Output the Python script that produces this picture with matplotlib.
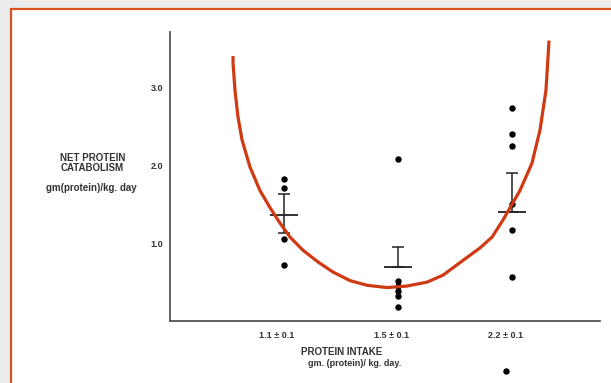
import numpy as np
import matplotlib.pyplot as plt
from matplotlib.patches import Rectangle

plt.rcParams['font.family'] = ['Liberation Sans', 'DejaVu Sans']

# groups on the x axis
positions = [1, 2, 3]
group_labels = ['1.1 ± 0.1', '1.5 ± 0.1', '2.2 ± 0.1']

# individual measurements (net protein catabolism, gm/kg.day)
g1_values = [1.83, 1.71, 1.06, 0.72]
g2_values = [2.08, 0.52, 0.45, 0.38, 0.32, 0.18]
g3_values = [2.74, 2.41, 2.25, 1.50, 1.17, 0.56]
stray_x = [2.95]
stray_y = [-0.64]

# group means and error bars (upper / lower)
means = [1.37, 0.69, 1.40]
err_up = [0.26, 0.26, 0.50]
err_lo = [0.24, 0.0, 0.0]

y_ticks = [1.0, 2.0, 3.0]
y_ticklabels = ['1.0', '2.0', '3.0']

# hand drawn red U curve
curve_x = [0.553, 0.553, 0.570, 0.596, 0.632, 0.702, 0.789, 0.877, 0.965, 1.053,
           1.167, 1.298, 1.430, 1.579, 1.728, 1.904, 2.079, 2.254, 2.395, 2.570,
           2.719, 2.825, 2.921, 3.070, 3.175, 3.246, 3.298, 3.325]
curve_y = [3.41, 3.32, 2.97, 2.63, 2.33, 1.98, 1.68, 1.46, 1.26, 1.08,
           0.91, 0.76, 0.63, 0.52, 0.46, 0.43, 0.45, 0.50, 0.59, 0.78,
           0.94, 1.08, 1.30, 1.68, 2.03, 2.46, 2.97, 3.61]

W, H = 611, 383
fig = plt.figure(figsize=(W / 100, H / 100), dpi=100)
fig.patch.set_facecolor('#ececec')

# slide frame
fig.patches.append(Rectangle((10.5 / W, -0.05), 1.1, (H - 9) / H + 0.05,
                             transform=fig.transFigure, facecolor='white',
                             edgecolor='#d9531e', linewidth=1.6, zorder=-10))

ax = fig.add_axes([170 / W, (H - 321) / H, 430 / W, 289 / H])
ax.set_facecolor('none')
ax.set_xlim(0, 3.772)
ax.set_ylim(0, 3.72)
for s in ['top', 'right']:
    ax.spines[s].set_visible(False)
for s in ['left', 'bottom']:
    ax.spines[s].set_color('#555555')
    ax.spines[s].set_linewidth(1.3)

tc = '#333333'
ax.set_yticks(y_ticks, y_ticklabels, fontweight='bold')
ax.set_xticks(np.array(positions) - 0.06, group_labels, fontweight='bold')
ax.tick_params(axis='y', length=0, pad=5, labelsize=6.5, labelcolor=tc)
ax.tick_params(axis='x', length=0, pad=7, labelsize=6.5, labelcolor=tc)

# points
for xpos, vals in zip(positions, [g1_values, g2_values, g3_values]):
    ax.plot([xpos] * len(vals), vals, 'o', color='black', ms=3.6, zorder=3)
ax.plot(stray_x, stray_y, 'o', color='black', ms=3.6, clip_on=False)

# means with error bars
ax.hlines(means, np.array(positions) - 0.125, np.array(positions) + 0.125,
          color='#222222', linewidth=1.3, zorder=2)
ax.errorbar(positions, means, yerr=[err_lo, err_up], fmt='none',
            ecolor='#222222', elinewidth=1.1, capsize=4.5, capthick=1.1, zorder=2)

# red curve
ax.plot(curve_x, curve_y, color='#cf3a12', linewidth=2.3, clip_on=False, zorder=4,
        solid_capstyle='butt', solid_joinstyle='round')

# axis titles
fig.text(93 / W, 1 - 158 / H, 'NET PROTEIN', ha='center', va='center', fontsize=7, fontweight='bold', color=tc)
fig.text(92 / W, 1 - 168 / H, 'CATABOLISM', ha='center', va='center', fontsize=7, fontweight='bold', color=tc)
fig.text(91 / W, 1 - 188 / H, 'gm(protein)/kg. day', ha='center', va='center', fontsize=7, fontweight='bold', color=tc)
fig.text(342 / W, 1 - 352 / H, 'PROTEIN INTAKE', ha='center', va='center', fontsize=7, fontweight='bold', color=tc)
fig.text(355 / W, 1 - 364 / H, 'gm. (protein)/ kg. day.', ha='center', va='center', fontsize=6.5, fontweight='bold', color=tc)

fig.savefig('out.png', dpi=100, facecolor=fig.get_facecolor())
